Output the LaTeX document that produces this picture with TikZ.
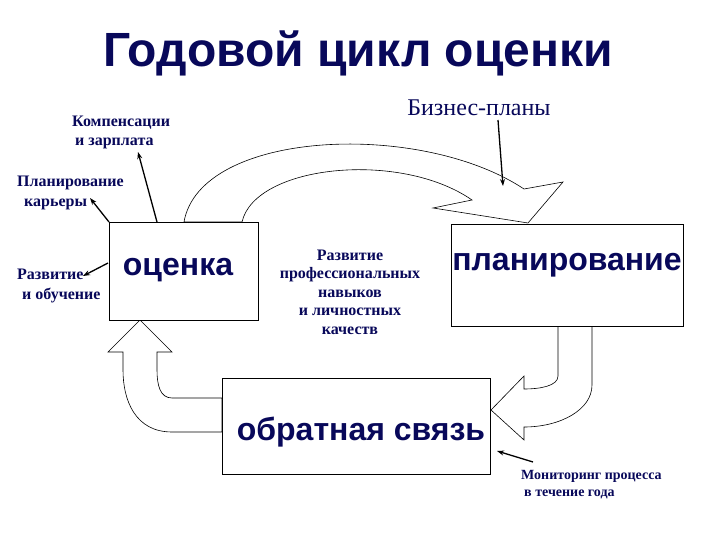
\documentclass[tikz,border=0pt]{standalone}
\usepackage{fontspec}
\setmainfont{Liberation Serif}
\newfontfamily\arialfont{Liberation Sans}
\usetikzlibrary{arrows.meta}
\definecolor{navy}{RGB}{8,8,90}
\begin{document}
\begin{tikzpicture}[x=1pt,y=-1pt,
  box/.style={draw=black,line width=0.9pt,fill=white,inner sep=0pt,anchor=north west},
  bigtxt/.style={text=navy,font=\arialfont\bfseries\fontsize{32}{36}\selectfont,inner sep=0pt},
  smalltxt/.style={text=navy,font=\bfseries\fontsize{16}{19.5}\selectfont,inner sep=0pt,align=left},
  ptr/.style={line width=1.3pt,-{Stealth[length=7pt,width=5pt]}},
  blockarrow/.style={draw=black,line width=0.6pt,fill=white,line join=miter}]
\fill[white] (0,0) rectangle (720,540);
\useasboundingbox (0,0) rectangle (720,540);

% title
\node[text=navy,font=\arialfont\bfseries\fontsize{48}{52}\selectfont,inner sep=0pt] (title) at (358,53) {Годовой цикл оценки};

% block arrows
\draw[blockarrow] (184,222) .. controls (200,130) and (420,120) .. (524,189)
  -- (563,182) -- (528,223) -- (433,208) -- (472,200)
  .. controls (400,150) and (255,165) .. (242,222) -- cycle;
\draw[blockarrow] (558,326) -- (558,376) .. controls (558,386) and (540,389) .. (524,389)
  -- (524,376) -- (491,410) -- (524,440) -- (524,427)
  .. controls (560,427) and (592,410) .. (592,385) -- (592,326) -- cycle;
\draw[blockarrow] (222,398) -- (172,398) .. controls (160,398) and (157,385) .. (157,370) -- (157,352)
  -- (172,352) -- (140,320) -- (108,352) -- (123,352) -- (123,370)
  .. controls (123,400) and (135,432) .. (172,432) -- (222,432) -- cycle;

% boxes
\node[box,minimum width=149pt,minimum height=98pt] (ocenka) at (109,222) {};
\node[bigtxt] (ocenkaT) at (178,270) {оценка};
\node[box,minimum width=232pt,minimum height=102pt] (plan) at (451,224) {};
\node[bigtxt] (planT) at (567,265) {планирование};
\node[box,minimum width=268pt,minimum height=96pt] (fb) at (222,378) {};
\node[bigtxt] (fbT) at (361,432) {обратная связь};

% labels
\node[smalltxt,anchor=west] (komp) at (72,132) {Компенсации\\[-0.5pt]\hspace{3pt}и зарплата};
\node[text=navy,font=\fontsize{24}{26}\selectfont,inner sep=0pt] (biz) at (479,108) {Бизнес-планы};
\node[smalltxt,anchor=west] (kar) at (17,193) {Планирование\\\hspace{7pt}карьеры};
\node[smalltxt,anchor=west] (razv) at (17,286) {Развитие\\\hspace{5pt}и обучение};
\node[smalltxt,align=center,font=\bfseries\fontsize{16}{18.5}\selectfont] (prof) at (350,292) {Развитие\\профессиональных\\навыков\\и личностных\\качеств};
\node[smalltxt,anchor=west,font=\bfseries\fontsize{14}{17}\selectfont] (mon) at (521,485) {Мониторинг процесса\\\hspace{3pt}в течение года};

% pointer arrows
\coordinate (kompS) at (157,222);
\coordinate (kompE) at (138,152);
\coordinate (karE) at (90,198);
\coordinate (razvS) at (108,263);
\coordinate (razvE) at (83,276);
\coordinate (bizS) at (498,120);
\coordinate (bizE) at (503,186);
\coordinate (monS) at (533,462);
\coordinate (monE) at (497,451);
\draw[ptr] (kompS) -- (kompE);
\draw[ptr] (ocenka.north west) -- (karE);
\draw[ptr] (razvS) -- (razvE);
\draw[ptr] (bizS) -- (bizE);
\draw[ptr] (monS) -- (monE);
\end{tikzpicture}
\end{document}
